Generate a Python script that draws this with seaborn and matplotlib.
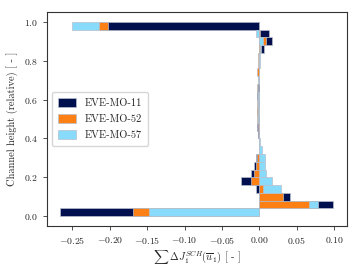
import numpy as np
import pandas as pd
import matplotlib
matplotlib.use("Agg")
import matplotlib.pyplot as plt
import seaborn as sns

# bin centres (relative channel height), bottom -> top
heights = [0.02, 0.06, 0.10, 0.14, 0.18, 0.22, 0.26, 0.30, 0.34, 0.38, 0.42, 0.46, 0.50,
           0.54, 0.58, 0.62, 0.66, 0.70, 0.74, 0.78, 0.82, 0.86, 0.90, 0.94, 0.98]

series_names = ["EVE-MO-11", "EVE-MO-52", "EVE-MO-57"]

eve_mo_11 = [-0.266, 0.0987, 0.041, -0.0044, -0.0248, -0.0105, -0.0067, -0.0045, -0.001, -0.001,
             -0.0015, -0.003, -0.002, -0.0035, -0.002, -0.003, -0.0015, -0.001, -0.001, -0.0005,
             0.0, 0.0067, 0.0165, 0.013, -0.203]
eve_mo_52 = [-0.169, 0.067, 0.032, 0.005, -0.0115, -0.0067, -0.004, -0.0025, -0.0005, -0.001,
             -0.002, -0.002, -0.003, -0.003, -0.003, -0.002, -0.0025, -0.002, -0.0025, -0.0015,
             -0.0013, 0.001, 0.0085, 0.001, -0.214]
eve_mo_57 = [-0.148, 0.078, 0.0, 0.029, 0.0165, 0.009, 0.0077, 0.0077, 0.004, 0.001,
             -0.0005, -0.001, -0.0015, -0.002, -0.002, -0.0015, -0.002, -0.0015, -0.001, 0.0008,
             0.001, 0.0023, 0.0053, -0.0045, -0.250]

colors = ["#00104f", "#fd8014", "#88dbfb"]

df = pd.DataFrame({
    "height": heights * 3,
    "value": eve_mo_11 + eve_mo_52 + eve_mo_57,
    "series": sum([[n] * len(heights) for n in series_names], []),
})

sns.set_style("ticks")
plt.rcParams["font.family"] = "serif"
plt.rcParams["font.serif"] = ["cmr10", "DejaVu Serif"]
plt.rcParams["mathtext.fontset"] = "cm"
plt.rcParams["axes.formatter.use_mathtext"] = True
plt.rcParams["axes.unicode_minus"] = True

fig = plt.figure(figsize=(3.59, 2.69), dpi=100)
ax = fig.add_axes([0.131, 0.160, 0.835, 0.795])

sns.barplot(data=df, x="value", y="height", hue="series", orient="y",
            native_scale=True, dodge=False, width=1.0, errorbar=None,
            palette=dict(zip(series_names, colors)), edgecolor="#b8bfcc",
            linewidth=0.5, saturation=1.0, ax=ax)

# draw larger magnitudes behind smaller ones
for p in ax.patches:
    p.set_zorder(2 - abs(p.get_width()))

ax.set_xlim(-0.284, 0.117)
ax.set_ylim(-0.05, 1.05)
ax.set_xticks([-0.25, -0.20, -0.15, -0.10, -0.05, 0.00, 0.05, 0.10])
ax.set_xticklabels(["$-0.25$", "$-0.20$", "$-0.15$", "$-0.10$", "$-0.05$", "$0.00$", "$0.05$", "$0.10$"])
ax.set_yticks([0.0, 0.2, 0.4, 0.6, 0.8, 1.0])
ax.set_yticklabels(["$0.0$", "$0.2$", "$0.4$", "$0.6$", "$0.8$", "$1.0$"])
ax.tick_params(labelsize=7, length=3, width=0.6, color="#333333")
for s in ax.spines.values():
    s.set_linewidth(0.8)
    s.set_color("#333333")
    s.set_visible(True)

ax.set_xlabel(r"$\sum\,\Delta J_1^{SCH}(\overline{u}_1)$ [ - ]", fontsize=7.5, labelpad=2)
ax.set_ylabel("Channel height (relative) [ - ]", fontsize=7.5, labelpad=4)

sns.move_legend(ax, "center left", title=None, fontsize=7.5, frameon=True,
                handlelength=1.7, handleheight=0.9, borderpad=0.6, labelspacing=0.6)

fig.savefig("out.png", dpi=100)
